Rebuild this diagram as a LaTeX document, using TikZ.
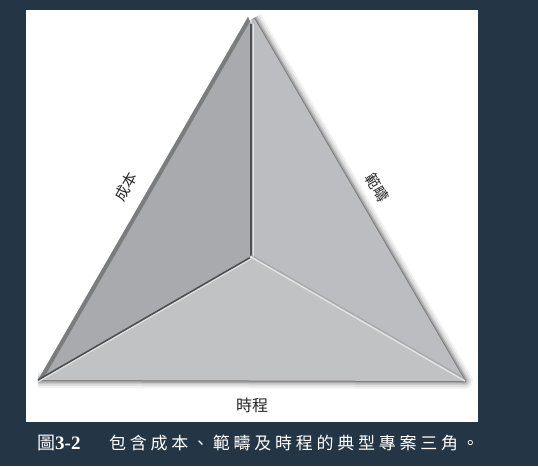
\documentclass[tikz,border=0pt]{standalone}
\usepackage{fontspec}
\setmainfont{Liberation Serif}
\newfontfamily\cjk{Noto Sans CJK TC}
\newfontfamily\capcjk[LetterSpace=22]{Noto Sans CJK TC}
\usetikzlibrary{positioning}
\definecolor{bgnavy}{HTML}{243646}
\definecolor{faceleft}{HTML}{A9AAAD}
\definecolor{faceright}{HTML}{BCBDC0}
\definecolor{facebottom}{HTML}{C1C2C4}
\definecolor{edgedark}{HTML}{7B7C7E}
\definecolor{ridgedark}{HTML}{4F5052}
\definecolor{ridgelight}{HTML}{E2E3E5}

\begin{document}
\begin{tikzpicture}[x=1pt, y=-1pt,
    sidelabel/.style={font=\cjk\fontsize{15}{15}\selectfont, text=black!85, inner sep=0pt},
    captext/.style={text=white, inner sep=0pt, anchor=west}]
    \fill[bgnavy] (0,0) rectangle (538,466);
    \fill[white] (26,10) rectangle (478,422);
    \useasboundingbox (0,0) rectangle (538,466);

    \coordinate (apexL) at (248,17);
    \coordinate (apexR) at (254,18);
    \coordinate (topdiv) at (251,24);
    \coordinate (ctr) at (251,257);
    \coordinate (cornL) at (38,380);
    \coordinate (cornR) at (465,381);

    \foreach \w/\o in {16/0.05, 12/0.07, 8/0.10, 5/0.16, 2/0.25}
        \draw[line width=\w pt, black, opacity=\o, line join=round, shift={(2,3)}]
            (apexR) -- (cornR) -- (cornL);

    \fill[faceleft] (cornL) -- (apexL) -- (topdiv) -- (ctr) -- cycle;
    \fill[faceright] (apexR) -- (cornR) -- (ctr) -- (topdiv) -- cycle;
    \fill[facebottom] (cornL) -- (ctr) -- (cornR) -- cycle;

    \begin{scope}
        \clip (cornL) -- (apexL) -- (topdiv) -- (ctr) -- cycle;
        \draw[edgedark, line width=8pt] (cornL) -- (apexL);
    \end{scope}

    \draw[ridgedark, line width=1.6pt] (topdiv) -- (ctr);
    \draw[ridgelight, line width=1pt] ([xshift=2pt]topdiv) -- ([xshift=2pt]ctr);
    \draw[ridgedark, line width=1.6pt] (cornL) -- (ctr);
    \draw[ridgelight, line width=1pt] ([yshift=-2pt]cornL) -- ([yshift=-2pt]ctr);
    \draw[black!40, line width=1.5pt, opacity=0.5] ([yshift=2pt]ctr) -- ([yshift=2pt]cornR);
    \draw[ridgelight, line width=1.4pt] (ctr) -- (cornR);
    \fill[white, opacity=0.8] (ctr) circle (1.5pt);

    \node[sidelabel, rotate=60] (cost) at (126,187) {成本};
    \node[sidelabel, rotate=-60] (scope) at (377,188) {範疇};
    \node[sidelabel, font=\cjk\fontsize{16}{16}\selectfont] (sched) at (252,405) {時程};

    \node[captext] (fignum) at (37,443)
        {\cjk\fontsize{18}{18}\selectfont 圖\textbf{\rmfamily\fontsize{19}{19}\selectfont 3-2}};
    \node[captext] (caption) at (109,443)
        {\capcjk\fontsize{17}{17}\selectfont 包含成本、範疇及時程的典型專案三角。};
\end{tikzpicture}
\end{document}
